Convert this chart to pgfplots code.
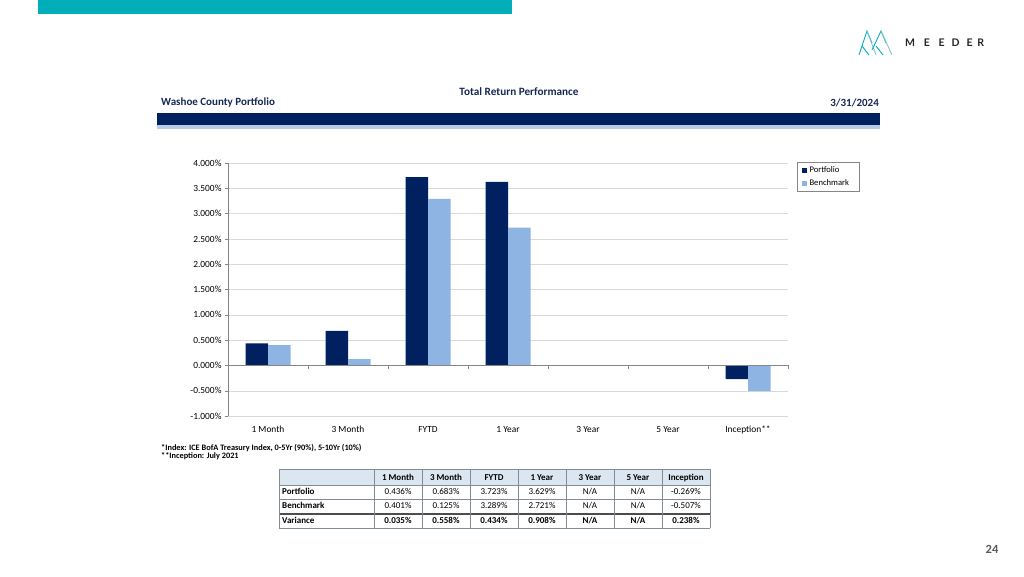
\documentclass[border=0pt]{standalone}
\usepackage{fontspec}
\setmainfont{Carlito}
\newfontfamily\logofont{Lato}
\usepackage{pgfplots}
\pgfplotsset{compat=1.18}

\definecolor{navy}{RGB}{0,32,96}
\definecolor{lblue}{RGB}{141,180,226}
\definecolor{meedteal}{RGB}{0,174,185}
\definecolor{bandblue}{RGB}{184,204,228}
\definecolor{headfill}{RGB}{220,230,241}
\definecolor{gridgray}{RGB}{217,217,217}
\definecolor{axgray}{RGB}{134,134,134}
\definecolor{tabline}{RGB}{130,140,150}
\definecolor{headtext}{RGB}{20,40,85}
\definecolor{pggray}{RGB}{89,89,89}

\newcommand\tabfont{\fontsize{9}{10}\selectfont}
\tikzset{cell/.style={font=\tabfont, text height=1.5ex, text depth=0.3ex, inner sep=0pt}}

\pgfplotsset{
  ybar legend/.style={legend image code/.code={\fill[##1] (0pt,-2.2pt) rectangle (4.4pt,2.2pt);}}
}

\begin{document}
\begin{tikzpicture}[x=1pt,y=1pt]
\path[use as bounding box] (0,0) rectangle (1024,576);

\begin{axis}[
  at={(228pt,160pt)}, anchor=south west,
  width=560pt, height=253pt, scale only axis,
  xmin=-0.5, xmax=6.5, ymin=-1, ymax=4,
  ybar=0pt, bar width=22.5pt,
  xtick={0,1,2,3,4,5,6},
  xticklabels={1 Month,3 Month,FYTD,1 Year,3 Year,5 Year,Inception**},
  ytick={-1,-0.5,0,0.5,1,1.5,2,2.5,3,3.5,4},
  yticklabel={\pgfmathprintnumber[fixed,fixed zerofill,precision=3]{\tick}\%},
  /pgf/number format/assume math mode=true,
  ymajorgrids, grid style={draw=gridgray},
  axis line style={draw=none},
  x tick style={draw=none},
  y tick style={draw=axgray},
  tick align=outside, major tick length=3pt, ytick pos=left,
  ticklabel style={font=\fontsize{9.4}{10}\selectfont},
  xticklabel style={yshift=-2pt, text height=1.6ex, text depth=0.3ex},
  legend style={at={(1.016,1.004)}, anchor=north west, draw=axgray,
    font=\fontsize{8.6}{9}\selectfont, inner xsep=5pt, inner ysep=2.5pt,
    row sep=1.5pt, nodes={inner xsep=3pt, text width=42pt, align=left}},
  legend cell align=left,
  clip=false,
]
\addplot[fill=navy, draw=none] coordinates {(0,0.436) (1,0.683) (2,3.723) (3,3.629) (6,-0.269)};
\addplot[fill=lblue, draw=none] coordinates {(0,0.401) (1,0.125) (2,3.289) (3,2.721) (6,-0.507)};
\legend{Portfolio,Benchmark}
\draw[axgray] (axis cs:-0.5,-1) -- (axis cs:-0.5,4);
\draw[axgray] (axis cs:-0.5,0) -- (axis cs:6.5,0);
\pgfplotsinvokeforeach{0.5,1.5,2.5,3.5,4.5,5.5,6.5}{
  \draw[axgray] (axis cs:#1,0) -- ++(0pt,-4pt);
}
\end{axis}

\begin{scope}[yshift=576pt, yscale=-1]
  % top teal bar
  \fill[meedteal] (38,0) rectangle (512,14);
  % logo
  \begin{scope}[line width=0.9pt]
    \draw[meedteal] (859,55) -- (867,31) -- (872,43);
    \draw[meedteal!60!gray!60] (867,31) -- (876,55);
    \draw[meedteal] (862,46) -- (869,55);
    \draw[meedteal] (872,50) -- (881,31) -- (886,43);
    \draw[meedteal!60!gray!60] (881,31) -- (892,55);
    \draw[meedteal] (876,46) -- (883,55);
  \end{scope}
  \foreach \ch/\xx in {M/910,E/927,E/941.7,D/955.7,E/969.7,R/980.7}
    \node[font=\logofont\bfseries\fontsize{10.5}{12}\selectfont, text=black!85, inner sep=0pt] at (\xx,43) {\ch};

  % header
  \node[font=\bfseries\fontsize{11.2}{13}\selectfont, text=headtext] at (519,92) {Total Return Performance};
  \node[font=\bfseries\fontsize{11}{13}\selectfont, text=headtext, anchor=west, inner sep=0pt] at (161,103) {Washoe County Portfolio};
  \node[font=\bfseries\fontsize{11}{13}\selectfont, text=headtext, anchor=east, inner sep=0pt] at (879,103) {3/31/2024};
  \fill[navy] (157,113) rectangle (880,125);
  \fill[bandblue] (157,125) rectangle (880,129);

  % footnotes
  \node[font=\bfseries\fontsize{8.3}{9}\selectfont, anchor=west, inner sep=0pt] at (161,448) {*Index: ICE BofA Treasury Index, 0-5Yr (90\%), 5-10Yr (10\%)};
  \node[font=\bfseries\fontsize{8.3}{9}\selectfont, anchor=west, inner sep=0pt] at (161,456) {**Inception: July 2021};

  % table
  \fill[headfill] (279,469) rectangle (710,485);
  \foreach \yy in {469,485,499,528}
    \draw[tabline, line width=0.7pt] (279,\yy) -- (710,\yy);
  \draw[black!70, line width=2pt] (279,513.5) -- (710,513.5);
  \foreach \xx in {279,374,422,470,518,566,614,662,710}
    \draw[tabline, line width=0.7pt] (\xx,469) -- (\xx,528);
  \foreach \lab [count=\i from 0] in {1 Month,3 Month,FYTD,1 Year,3 Year,5 Year,Inception}
    \node[cell, font=\bfseries\tabfont] at (398+48*\i,477.5) {\lab};
  \node[cell, font=\bfseries\tabfont, anchor=west] at (282,492) {Portfolio};
  \node[cell, font=\bfseries\tabfont, anchor=west] at (282,506) {Benchmark};
  \node[cell, font=\bfseries\tabfont, anchor=west] at (282,521) {Variance};
  \foreach \v [count=\i from 0] in {0.436\%,0.683\%,3.723\%,3.629\%,N/A,N/A,-0.269\%}
    \node[cell] at (398+48*\i,492) {\v};
  \foreach \v [count=\i from 0] in {0.401\%,0.125\%,3.289\%,2.721\%,N/A,N/A,-0.507\%}
    \node[cell] at (398+48*\i,506) {\v};
  \foreach \v [count=\i from 0] in {0.035\%,0.558\%,0.434\%,0.908\%,N/A,N/A,0.238\%}
    \node[cell, font=\bfseries\tabfont] at (398+48*\i,521) {\v};

  % page number
  \node[font=\bfseries\fontsize{12.5}{14}\selectfont, text=pggray] at (992,549) {24};
\end{scope}
\end{tikzpicture}
\end{document}
